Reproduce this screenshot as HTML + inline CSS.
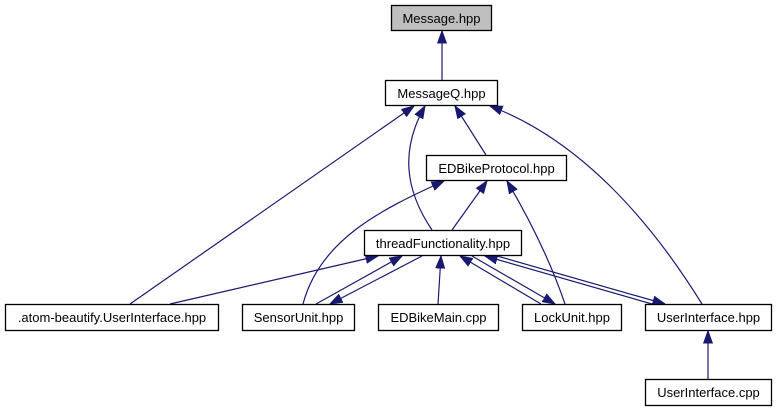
<!DOCTYPE html>
<html><head><meta charset="utf-8"><style>
html,body{margin:0;padding:0;background:#fff;}
svg{display:block;}
text{font-family:"Liberation Sans",Arial,sans-serif;font-size:13px;fill:#000;}
</style></head><body>
<svg width="778" height="411" viewBox="0 0 778 411" xmlns="http://www.w3.org/2000/svg">
<defs>
<marker id="a" markerWidth="13" markerHeight="10" refX="12.5" refY="5" orient="auto" markerUnits="userSpaceOnUse">
<polygon points="0,0.5 12.5,5 0,9.5" fill="#191970" stroke="#191970"/>
</marker>
</defs>
<g fill="none" stroke="#191970" stroke-width="1.2">
<path d="M442,80 L442,31" marker-end="url(#a)"/>
<path d="M486,155 L455,106" marker-end="url(#a)"/>
<path d="M432,230 C405,190 400,150 425,106" marker-end="url(#a)"/>
<path d="M130,304 L414,106" marker-end="url(#a)"/>
<path d="M702,304 C650,220 580,140 490,106" marker-end="url(#a)"/>
<path d="M452,230 L487,181" marker-end="url(#a)"/>
<path d="M303,304 C320,240 380,210 444,181" marker-end="url(#a)"/>
<path d="M565,304 C550,260 530,220 507,181" marker-end="url(#a)"/>
<path d="M170,304 L378,256" marker-end="url(#a)"/>
<path d="M316,304 L402,256" marker-end="url(#a)"/>
<path d="M422,256 L330,304" marker-end="url(#a)"/>
<path d="M438,304 L441,256" marker-end="url(#a)"/>
<path d="M541,304 L460,256" marker-end="url(#a)"/>
<path d="M472,256 L555,304" marker-end="url(#a)"/>
<path d="M652,304 L485,256" marker-end="url(#a)"/>
<path d="M497,256 L665,304" marker-end="url(#a)"/>
<path d="M708,379 L708,331" marker-end="url(#a)"/>
</g>
<g stroke="#000" stroke-width="1.3">
<rect x="391.5" y="5.5" width="100" height="25" fill="#bfbfbf"/>
<rect x="385.5" y="80.5" width="112" height="25" fill="#fff"/>
<rect x="426.5" y="155.5" width="140" height="25" fill="#fff"/>
<rect x="364.5" y="230.5" width="157" height="25" fill="#fff"/>
<rect x="5.5" y="304.5" width="213" height="26" fill="#fff"/>
<rect x="242.5" y="304.5" width="112" height="26" fill="#fff"/>
<rect x="378.5" y="304.5" width="120" height="26" fill="#fff"/>
<rect x="522.5" y="304.5" width="99" height="26" fill="#fff"/>
<rect x="645.5" y="304.5" width="126" height="26" fill="#fff"/>
<rect x="645.5" y="379.5" width="126" height="26" fill="#fff"/>
</g>
<g text-anchor="middle">
<text x="441.5" y="23">Message.hpp</text>
<text x="441.5" y="98">MessageQ.hpp</text>
<text x="496.5" y="173">EDBikeProtocol.hpp</text>
<text x="443" y="248">threadFunctionality.hpp</text>
<text x="112" y="322">.atom-beautify.UserInterface.hpp</text>
<text x="298.5" y="322">SensorUnit.hpp</text>
<text x="438.5" y="322">EDBikeMain.cpp</text>
<text x="572" y="322">LockUnit.hpp</text>
<text x="708.5" y="322">UserInterface.hpp</text>
<text x="708.5" y="397">UserInterface.cpp</text>
</g>
</svg>
</body></html>
